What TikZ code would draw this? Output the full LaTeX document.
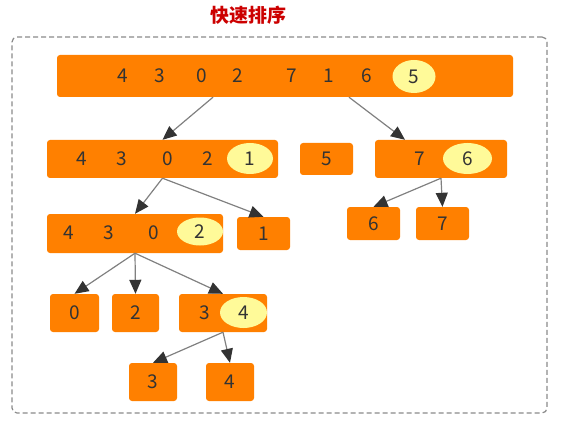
\documentclass[tikz,border=0pt]{standalone}
\usepackage{fontspec}
\setmainfont{Noto Sans CJK SC}
\usepackage{tikz}
\usetikzlibrary{arrows.meta,shapes.geometric}
\definecolor{barorange}{HTML}{FF8000}
\definecolor{pivotyellow}{HTML}{FFFA99}
\definecolor{numgray}{HTML}{333333}
\definecolor{titlered}{HTML}{CC0000}
\definecolor{framegray}{HTML}{8A8A8A}

\begin{document}
\begin{tikzpicture}[
  x=1pt, y=-1pt,
  font=\fontsize{19}{22}\selectfont,
  bar/.style={fill=barorange, rounded corners=3pt, inner sep=0pt},
  num/.style={text=numgray, inner sep=0pt},
  pivot/.style={ellipse, fill=pivotyellow, text=numgray, inner sep=0pt, minimum width=46pt, minimum height=31pt},
  arr/.style={-{Triangle[length=14pt, width=12pt, color=numgray]}, draw=gray, line width=1.2pt},
  frame/.style={draw=framegray, line width=1.2pt, dash pattern=on 5pt off 3pt, rounded corners=5pt, inner sep=0pt},
]
\useasboundingbox (0,0) rectangle (567,422);
\node[font=\fontsize{19}{22}\selectfont\bfseries, text=titlered] (title) at (248,15) {快速排序};
\node[frame, minimum width=535pt, minimum height=376pt] (frame) at (279.5,225) {};

% boxes
\node[bar, minimum width=456pt, minimum height=42pt] (n43027165) at (285,76) {};
\node[bar, minimum width=231pt, minimum height=38pt] (n43021) at (162.5,159) {};
\node[bar, minimum width=53pt, minimum height=32pt] (n5) at (326.5,159) {};
\node[bar, minimum width=132pt, minimum height=38pt] (n76) at (441,159) {};
\node[bar, minimum width=176pt, minimum height=39pt] (n4302) at (135,233.5) {};
\node[bar, minimum width=53pt, minimum height=33pt] (n1) at (263.5,233.5) {};
\node[bar, minimum width=53pt, minimum height=33pt] (n6) at (373.5,223.5) {};
\node[bar, minimum width=53pt, minimum height=33pt] (n7) at (442.5,223.5) {};
\node[bar, minimum width=49pt, minimum height=38pt] (n0) at (74.5,313) {};
\node[bar, minimum width=47pt, minimum height=38pt] (n2) at (135.5,313) {};
\node[bar, minimum width=88pt, minimum height=38pt] (n34) at (223,313) {};
\node[bar, minimum width=48pt, minimum height=38pt] (n3) at (153,382) {};
\node[bar, minimum width=48pt, minimum height=38pt] (n4) at (230,382) {};

% pivots
\node[pivot, minimum width=43pt, minimum height=33pt] (p5) at (414,76.5) {5};
\node[pivot] (p1) at (250,158.5) {1};
\node[pivot, minimum width=49pt] (p6) at (467.5,158.5) {6};
\node[pivot, minimum height=28pt] (p2) at (200,231.5) {2};
\node[pivot, minimum width=47pt] (p4) at (243.5,312.5) {4};

% numbers
\foreach \v/\x [count=\i] in {4/123,3/160,0/202,2/238,7/292,1/329,6/367}
  \node[num] (top-\i) at (\x,76) {\v};
\foreach \v/\x [count=\i] in {4/82,3/122,0/168,2/208}
  \node[num] (left-\i) at (\x,159) {\v};
\foreach \v/\x [count=\i] in {4/69,3/109,0/154}
  \node[num] (sub-\i) at (\x,233) {\v};
\node[num] (t5) at (327,159) {5};
\node[num] (t7) at (420,159) {7};
\node[num] (t1) at (263.5,233.5) {1};
\node[num] (t6) at (373.5,223.5) {6};
\node[num] (t7b) at (442.5,223.5) {7};
\node[num] (t0) at (75,313) {0};
\node[num] (t2) at (135.5,313) {2};
\node[num] (t3) at (205,313) {3};
\node[num] (t3b) at (153,382) {3};
\node[num] (t4b) at (230,382) {4};

% arrows
\draw[arr] ([xshift=-72pt]n43027165.south) -- (n43021.north);
\draw[arr] ([xshift=64pt]n43027165.south) -- ([xshift=-36pt]n76.north);
\draw[arr] (n43021.south) -- (n4302.north);
\draw[arr] (n43021.south) -- (n1.north);
\draw[arr] (n76.south) -- (n6.north);
\draw[arr] (n76.south) -- (n7.north);
\draw[arr] (n4302.south) -- (n0.north);
\draw[arr] (n4302.south) -- (n2.north);
\draw[arr] (n4302.south) -- (n34.north);
\draw[arr] (n34.south) -- (n3.north);
\draw[arr] (n34.south) -- (n4.north);
\end{tikzpicture}
\end{document}
